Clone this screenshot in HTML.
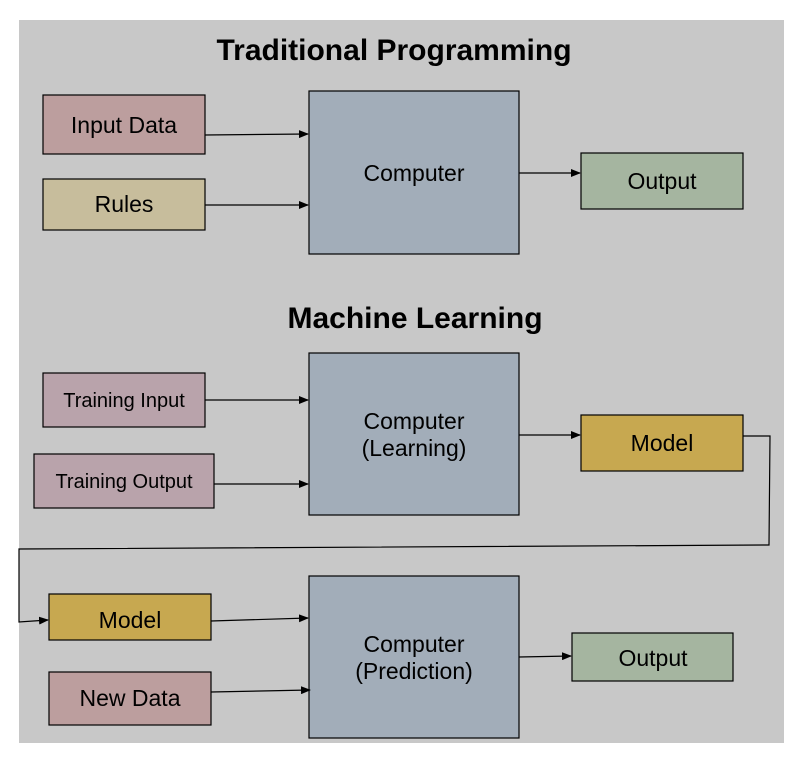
<!DOCTYPE html>
<html><head><style>body{margin:0;background:#fff}svg{display:block}text{font-family:"Liberation Sans",sans-serif;fill:#000}</style></head>
<body>
<svg width="803" height="763" xmlns="http://www.w3.org/2000/svg">
<defs><marker id="a" markerWidth="10" markerHeight="8" refX="9" refY="4" orient="auto" markerUnits="userSpaceOnUse"><path d="M0,0L10,4L0,8z" fill="#000"/></marker></defs>
<rect x="19" y="20" width="765" height="723" fill="#c8c8c8"/>
<text x="394" y="60" font-size="30" font-weight="bold" text-anchor="middle">Traditional Programming</text>
<text x="415" y="328" font-size="30" font-weight="bold" text-anchor="middle">Machine Learning</text>
<g stroke="#000" stroke-width="1.2">
<rect x="43" y="95" width="162" height="59" fill="#bc9e9e"/>
<rect x="43" y="179" width="162" height="51" fill="#c7bd9c"/>
<rect x="309" y="91" width="210" height="163" fill="#a2adb9"/>
<rect x="581" y="153" width="162" height="56" fill="#a5b5a0"/>
<rect x="43" y="373" width="162" height="54" fill="#b9a3ab"/>
<rect x="34" y="454" width="180" height="54" fill="#b9a3ab"/>
<rect x="309" y="353" width="210" height="162" fill="#a2adb9"/>
<rect x="581" y="415" width="162" height="56" fill="#c7a850"/>
<rect x="49" y="594" width="162" height="46" fill="#c7a850"/>
<rect x="49" y="672" width="162" height="53" fill="#bc9e9e"/>
<rect x="309" y="576" width="210" height="162" fill="#a2adb9"/>
<rect x="572" y="633" width="161" height="48" fill="#a5b5a0"/>
</g>
<g stroke="#000" stroke-width="1.2" fill="none" marker-end="url(#a)">
<path d="M205,135L308,134"/>
<path d="M205,205L308,205"/>
<path d="M519,173L580,173"/>
<path d="M205,400L308,400"/>
<path d="M214,484L308,484"/>
<path d="M519,435L580,435"/>
<path d="M743,436L770,436L769,545L19,549L19,622L48,620"/>
<path d="M211,621L308,618"/>
<path d="M211,692L310,690"/>
<path d="M519,657L571,656"/>
</g>
<g font-size="23" text-anchor="middle">
<text x="124" y="133">Input Data</text>
<text x="124" y="212">Rules</text>
<text x="414" y="181">Computer</text>
<text x="662" y="189">Output</text>
<text x="124" y="407" font-size="20">Training Input</text>
<text x="124" y="488" font-size="20">Training Output</text>
<text x="414" y="429">Computer</text>
<text x="414" y="456">(Learning)</text>
<text x="662" y="451">Model</text>
<text x="130" y="628">Model</text>
<text x="130" y="706">New Data</text>
<text x="414" y="652">Computer</text>
<text x="414" y="679">(Prediction)</text>
<text x="653" y="666">Output</text>
</g>
</svg>
</body></html>
